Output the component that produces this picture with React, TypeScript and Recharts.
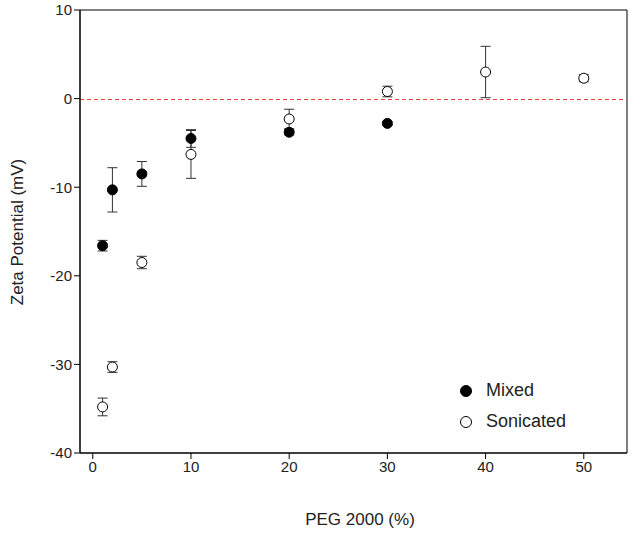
import { ScatterChart, Scatter, XAxis, YAxis, ErrorBar, ReferenceLine, ReferenceArea } from "recharts";

const mixed = [
  { x: 1, y: -16.6, err: 0.6 },
  { x: 2, y: -10.3, err: 2.5 },
  { x: 5, y: -8.5, err: 1.4 },
  { x: 10, y: -4.5, err: 1.0 },
  { x: 20, y: -3.8, err: 0.3 },
  { x: 30, y: -2.8, err: 0.2 },
];

const sonicated = [
  { x: 1, y: -34.8, err: 1.0 },
  { x: 2, y: -30.3, err: 0.6 },
  { x: 5, y: -18.5, err: 0.7 },
  { x: 10, y: -6.3, err: 2.7 },
  { x: 20, y: -2.3, err: 1.1 },
  { x: 30, y: 0.8, err: 0.6 },
  { x: 40, y: 3.0, err: 2.9 },
  { x: 50, y: 2.3, err: 0.4 },
];

const xTicks = [0, 10, 20, 30, 40, 50];
const yTicks = [-40, -30, -20, -10, 0, 10];

const font = "'Liberation Sans', Arial, sans-serif";

const dot = (fill: string) => (p: any) => (
  <circle cx={p.cx} cy={p.cy} r={5} fill={fill} stroke="#000" strokeWidth={1} />
);

export default function App() {
  return (
    <div style={{ position: "absolute", left: 0, top: 0, width: 640, height: 536, background: "#fff", fontFamily: font, color: "#222" }}>
      <ScatterChart width={640} height={536} margin={{ top: 10, right: 13, bottom: 53, left: 20 }}>
        <XAxis type="number" dataKey="x" domain={[-1.3, 54.4]} ticks={xTicks} allowDataOverflow height={30}
          tick={{ fill: "#222", fontSize: 15, fontFamily: font }} tickSize={6} stroke="#000" />
        <YAxis type="number" dataKey="y" domain={[-40, 10]} ticks={yTicks} allowDataOverflow width={60}
          tick={{ fill: "#222", fontSize: 15, fontFamily: font }} tickSize={6} stroke="#000" />
        <ReferenceArea x1={-1.3} x2={54.4} y1={-40} y2={10} fill="none" stroke="#000" strokeWidth={1} />
        <ReferenceLine y={-0.1} stroke="#e84040" strokeDasharray="4 3" />
        <Scatter data={mixed} shape={dot("#000")} isAnimationActive={false}>
          <ErrorBar dataKey="err" direction="y" width={5} stroke="#333" strokeWidth={1} />
        </Scatter>
        <Scatter data={sonicated} shape={dot("#fff")} isAnimationActive={false}>
          <ErrorBar dataKey="err" direction="y" width={5} stroke="#333" strokeWidth={1} />
        </Scatter>
      </ScatterChart>
      <div style={{ position: "absolute", left: 0, right: 0, top: 510, paddingLeft: 80, textAlign: "center", fontSize: 17 }}>PEG 2000 (%)</div>
      <div style={{ position: "absolute", left: 18, top: 232, fontSize: 17, whiteSpace: "nowrap", transform: "translate(-50%, -50%) rotate(-90deg)" }}>Zeta Potential (mV)</div>
      <div style={{ position: "absolute", left: 460, top: 375, fontSize: 18, lineHeight: "31px" }}>
        <div style={{ display: "flex", alignItems: "center" }}>
          <span style={{ width: 10, height: 10, borderRadius: 6, background: "#000", border: "1px solid #000", marginRight: 14 }} />Mixed
        </div>
        <div style={{ display: "flex", alignItems: "center" }}>
          <span style={{ width: 10, height: 10, borderRadius: 6, background: "#fff", border: "1px solid #000", marginRight: 14 }} />Sonicated
        </div>
      </div>
    </div>
  );
}
